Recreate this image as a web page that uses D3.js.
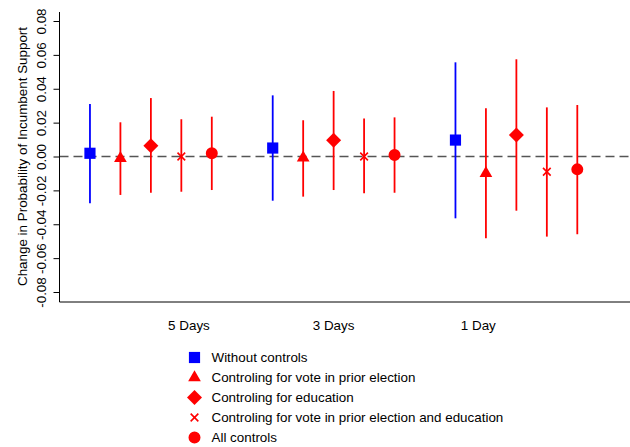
<!DOCTYPE html>
<html>
<head>
<meta charset="utf-8">
<script src="https://cdn.jsdelivr.net/npm/d3@7"></script>
<style>
  body { margin: 0; background: #fff; }
  svg { display: block; font-family: "Liberation Sans", Arial, sans-serif; }
</style>
</head>
<body>
<div id="chart"></div>
<script>
// horizon groups and model labels
const groups = ['5 Days', '3 Days', '1 Day']
const groupLabelPos = [4.25, 9, 13.75]
const models = [
  'Without controls',
  'Controling for vote in prior election',
  'Controling for education',
  'Controling for vote in prior election and education',
  'All controls'
]
// point estimates, one row per model, one value per group
const estimate = [
  [0.0019, 0.0050, 0.0097],
  [-0.0011, -0.0008, -0.0099],
  [0.0064, 0.0096, 0.0127],
  [0.0000, 0.0000, -0.0090],
  [0.0019, 0.0009, -0.0076]
]
const upper = [
  [0.0310, 0.0361, 0.0556],
  [0.0202, 0.0214, 0.0285],
  [0.0345, 0.0387, 0.0574],
  [0.0220, 0.0225, 0.0290],
  [0.0235, 0.0231, 0.0304]
]
const lower = [
  [-0.0276, -0.0261, -0.0365],
  [-0.0227, -0.0237, -0.0483],
  [-0.0214, -0.0198, -0.0320],
  [-0.0208, -0.0217, -0.0473],
  [-0.0198, -0.0214, -0.0459]
]
const yTicks = [-0.08, -0.06, -0.04, -0.02, 0, 0.02, 0.04, 0.06, 0.08]

const W = 630, H = 447
const FS = '13.4px'
const svg = d3.select('#chart').append('svg').attr('width', W).attr('height', H)

const x = d3.scaleLinear().domain([0, 17]).range([59.5, 577.3])
const y = d3.scaleLinear().domain([-0.08, 0.08]).range([292, 21])

const colors = ['#0000ff', '#ff0000', '#ff0000', '#ff0000', '#ff0000']
const symbols = [
  d3.symbol(d3.symbolSquare, 125),
  d3.symbol(d3.symbolTriangle, 70),
  d3.symbol(d3.symbolSquare, 112),
  d3.symbol(d3.symbolTimes, 40),
  d3.symbol(d3.symbolCircle, 113)
]
const rotate = [0, 0, 45, 0, 0]

function drawMarker(g, i) {
  const p = g.append('path').attr('d', symbols[i]())
    .attr('transform', 'rotate(' + rotate[i] + ')')
  if (i === 3) {
    p.attr('fill', 'none').attr('stroke', colors[i]).attr('stroke-width', 1.6)
  } else {
    p.attr('fill', colors[i])
  }
}

// flatten rows into points
const points = []
models.forEach((m, i) => {
  groups.forEach((g, j) => {
    points.push({ model: i, pos: j * 6 + i + 1, est: estimate[i][j], lo: lower[i][j], hi: upper[i][j] })
  })
})

// zero reference line
svg.append('line')
  .attr('x1', x(0)).attr('x2', W)
  .attr('y1', y(0)).attr('y2', y(0))
  .attr('stroke', '#555').attr('stroke-width', 1.3)
  .attr('stroke-dasharray', '9,5')

// error bars
svg.selectAll('line.ci').data(points).enter().append('line')
  .attr('class', 'ci')
  .attr('x1', d => x(d.pos)).attr('x2', d => x(d.pos))
  .attr('y1', d => y(d.hi)).attr('y2', d => y(d.lo))
  .attr('stroke', d => colors[d.model]).attr('stroke-width', 1.8)

// markers
svg.selectAll('g.pt').data(points).enter().append('g')
  .attr('class', 'pt')
  .attr('transform', d => 'translate(' + x(d.pos) + ',' + y(d.est) + ')')
  .each(function (d) { drawMarker(d3.select(this), d.model) })

// y axis
const yAxis = svg.append('g')
  .attr('transform', 'translate(' + x(0) + ',0)')
  .call(d3.axisLeft(y).tickValues(yTicks).tickSize(6).tickFormat(d => d.toFixed(2)))
yAxis.select('.domain').remove()
yAxis.selectAll('text')
  .attr('x', null).attr('dy', null)
  .attr('text-anchor', 'middle')
  .attr('transform', 'translate(-13.5,0) rotate(-90)')
  .style('font-size', FS)
  .style('font-family', '"Liberation Sans", Arial, sans-serif')
  .attr('fill', '#000')
svg.append('line')
  .attr('x1', x(0)).attr('x2', x(0)).attr('y1', 12).attr('y2', 302)
  .attr('stroke', '#000')

// bottom line
svg.append('line')
  .attr('x1', x(0)).attr('x2', W).attr('y1', 302).attr('y2', 302)
  .attr('stroke', '#000')

// y title
svg.append('text')
  .attr('transform', 'translate(27,' + y(0) + ') rotate(-90)')
  .attr('text-anchor', 'middle')
  .style('font-size', FS)
  .text('Change in Probability of Incumbent Support')

// group labels
svg.selectAll('text.grp').data(groups).enter().append('text')
  .attr('class', 'grp')
  .attr('x', (d, i) => x(groupLabelPos[i])).attr('y', 330)
  .attr('text-anchor', 'middle')
  .style('font-size', FS)
  .text(d => d)

// legend
const leg = svg.selectAll('g.leg').data(models).enter().append('g')
  .attr('class', 'leg')
  .attr('transform', (d, i) => 'translate(194.5,' + (357.5 + i * 20) + ')')
leg.each(function (d, i) { drawMarker(d3.select(this), i) })
leg.append('text')
  .attr('x', 17).attr('y', 4.7)
  .style('font-size', FS)
  .text(d => d)
</script>
</body>
</html>
